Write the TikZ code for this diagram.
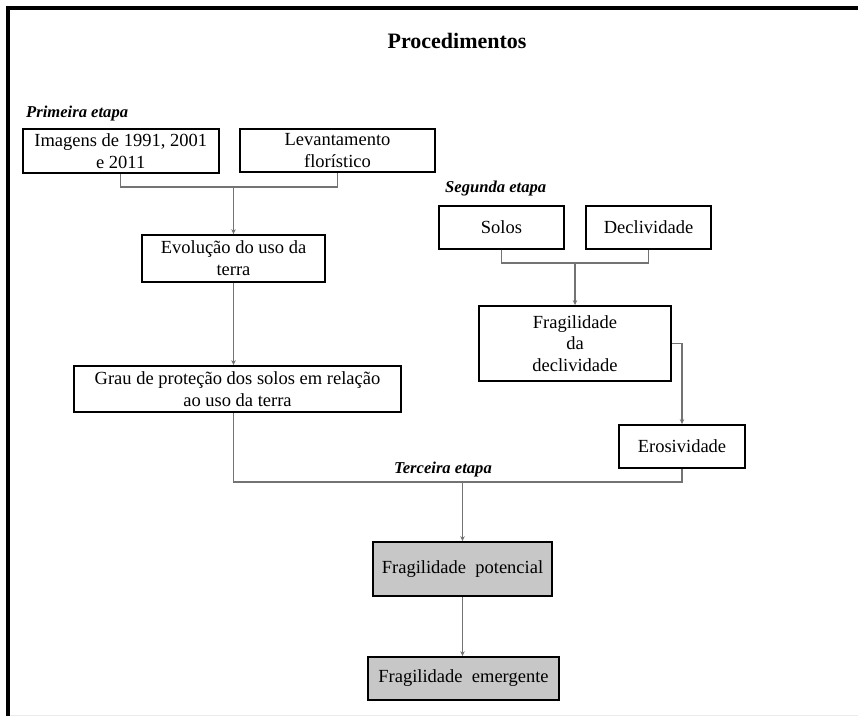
\documentclass[tikz,border=0pt]{standalone}
\usepackage{fontspec}
\setmainfont{Liberation Serif}
\usetikzlibrary{arrows.meta,calc}
\begin{document}
\begin{tikzpicture}[x=1pt,y=-1pt,
  box/.style={draw=black, line width=1.8pt, rectangle, inner sep=0pt, align=center,
    font=\fontsize{18.5}{21.8}\selectfont},
  greybox/.style={box, fill=black!22},
  conn/.style={draw=black!55, line width=1.2pt},
  arr/.style={conn, -{Stealth[length=5pt,width=4.5pt]}},
  etapa/.style={font=\fontsize{16.6}{20}\selectfont\bfseries\itshape, inner sep=0pt},
  titlestyle/.style={font=\fontsize{22}{26}\selectfont\bfseries, inner sep=0pt},
  framestyle/.style={line width=4pt, draw=black}
]
\useasboundingbox (0,0) rectangle (858,716);
% frame
\draw[framestyle] (8,716) -- (8,7.5) -- (858,7.5);
\draw[black!8, line width=0.8pt] (10,715) -- (858,715);

% title and stage labels
\node[titlestyle] (title) at (457,41) {Procedimentos};
\node[etapa, anchor=west] (et1) at (26,114) {Primeira etapa};
\node[etapa, anchor=west] (et2) at (445,188) {Segunda etapa};
\node[etapa] (et3) at (443,469) {Terceira etapa};

% first stage
\node[box, minimum width=196pt, minimum height=44pt] (img) at (120.7,151) {Imagens de 1991, 2001\\e 2011};
\node[box, minimum width=195pt, minimum height=43pt] (lev) at (337.5,150.5) {Levantamento\\florístico};
\node[box, minimum width=183pt, minimum height=47pt] (evo) at (233.5,258.5) {Evolução do uso da\\terra};
\node[box, minimum width=327pt, minimum height=46pt] (grau) at (237.5,389) {Grau de proteção dos solos em relação\\ao uso da terra};

% second stage
\node[box, minimum width=125pt, minimum height=43pt] (solos) at (501.5,227.5) {Solos};
\node[box, minimum width=125pt, minimum height=43pt] (decl) at (648.5,227.5) {Declividade};
\node[box, minimum width=192pt, minimum height=75pt] (frag) at (575,343.5) {Fragilidade\\da\\declividade};
\node[box, minimum width=126pt, minimum height=43pt] (eros) at (682,446.5) {Erosividade};

% third stage
\node[greybox, minimum width=179pt, minimum height=54pt] (pot) at (462.5,569) {Fragilidade\ \ potencial};
\node[greybox, minimum width=191pt, minimum height=43pt] (emer) at (463.5,678.5) {Fragilidade\ \ emergente};

% junction coordinates
\coordinate (j1) at (evo.north |- 0,187);
\coordinate (j2) at (frag.north |- 0,263);
\coordinate (j3) at (pot.north |- 0,482);

% connectors
\draw[conn] (img.south) |- (j1) -| (lev.south);
\draw[arr] (j1) -- (evo.north);
\draw[arr] (evo.south) -- (evo.south |- grau.north);

\draw[conn] (solos.south) |- (j2) -| (decl.south);
\draw[arr] (j2) -- (frag.north);
\draw[arr] (frag.east) -| (eros.north);

\draw[conn] (evo.south |- grau.south) |- (j3) -| (eros.south);
\draw[arr] (j3) -- (pot.north);
\draw[arr] (pot.south) -- (pot.south |- emer.north);
\end{tikzpicture}
\end{document}
